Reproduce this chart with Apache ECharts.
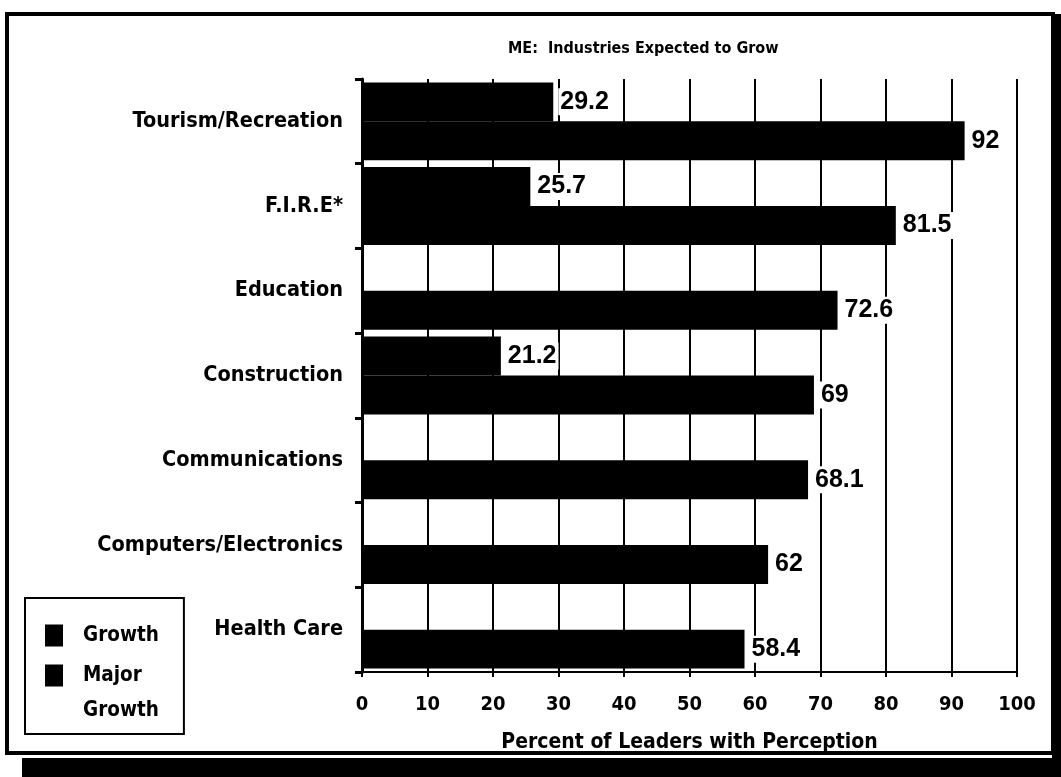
<!DOCTYPE html>
<html>
<head>
<meta charset="utf-8">
<script src="https://cdn.jsdelivr.net/npm/echarts@6/dist/echarts.min.js"></script>
<style>
  html, body { margin: 0; padding: 0; background: #fff; }
  #chart { width: 1061px; height: 777px; }
</style>
</head>
<body>
<div id="chart"></div>
<script>
// industries, top to bottom
const categories = [
  "Tourism/Recreation",
  "F.I.R.E*",
  "Education",
  "Construction",
  "Communications",
  "Computers/Electronics",
  "Health Care"
];
const growth = [29.2, 25.7, "-", 21.2, "-", "-", "-"];
const majorGrowth = [92, 81.5, 72.6, 69, 68.1, 62, 58.4];
const xTicks = [0, 10, 20, 30, 40, 50, 60, 70, 80, 90, 100];

const FONT = "'DejaVu Sans Condensed', 'DejaVu Sans', sans-serif";
const PLAIN = "'Liberation Sans', Arial, sans-serif";

const chart = echarts.init(document.getElementById("chart"));

const barLabel = {
  show: true,
  position: "right",
  distance: 5,
  color: "#000",
  fontFamily: PLAIN,
  fontWeight: "bold",
  fontSize: 25,
  backgroundColor: "#fff",
  padding: [1, 2, 1, 2]
};

chart.setOption({
  backgroundColor: "#fff",
  animation: false,
  title: {
    text: "ME:  Industries Expected to Grow",
    left: 503,
    top: 36,
    textStyle: {
      color: "#000",
      fontFamily: FONT,
      fontWeight: "bold",
      fontSize: 16
    }
  },
  legend: {
    orient: "vertical",
    left: 25,
    top: 598,
    height: 400,
    padding: [20, 25, 6, 20],
    itemWidth: 18,
    itemHeight: 22,
    itemGap: -30,
    borderColor: "#000",
    borderWidth: 2,
    icon: "rect",
    textStyle: {
      color: "#000",
      fontFamily: FONT,
      fontWeight: "bold",
      fontSize: 20.5,
      lineHeight: 35,
      padding: [0, 0, 0, 15]
    },
    formatter: function (name) {
      // second entry is written on two lines, icon beside the first
      return name === "Major Growth" ? "\nMajor\nGrowth" : name;
    },
    data: ["Growth", "Major Growth"]
  },
  grid: {
    left: 362,
    right: 44,
    top: 79,
    bottom: 105
  },
  xAxis: {
    type: "value",
    min: 0,
    max: 100,
    interval: 10,
    name: "Percent of Leaders with Perception",
    nameLocation: "middle",
    nameGap: 60,
    nameTextStyle: {
      color: "#000",
      fontFamily: FONT,
      fontWeight: "bold",
      fontSize: 21
    },
    axisLine: { show: true, lineStyle: { color: "#000", width: 2 } },
    axisTick: { show: true, length: 5, lineStyle: { color: "#000", width: 2 } },
    axisLabel: {
      color: "#000",
      margin: 23,
      fontFamily: FONT,
      fontWeight: "bold",
      fontSize: 20,
      formatter: function (v) {
        return xTicks.indexOf(v) >= 0 ? String(v) : "";
      }
    },
    splitLine: { show: true, lineStyle: { color: "#000", width: 2 } }
  },
  yAxis: {
    type: "category",
    data: categories,
    inverse: true,
    axisLine: { show: true, lineStyle: { color: "#000", width: 3 } },
    axisTick: { show: true, length: 7, lineStyle: { color: "#000", width: 3 } },
    axisLabel: {
      color: "#000",
      margin: 19,
      fontFamily: FONT,
      fontWeight: "bold",
      fontSize: 21.5
    },
    splitLine: { show: false }
  },
  series: [
    {
      name: "Growth",
      type: "bar",
      data: growth,
      barGap: "0%",
      barCategoryGap: "8%",
      itemStyle: { color: "#000" },
      label: barLabel
    },
    {
      name: "Major Growth",
      type: "bar",
      data: majorGrowth,
      barGap: "0%",
      barCategoryGap: "8%",
      itemStyle: { color: "#000" },
      label: barLabel
    }
  ],
  graphic: [
    {
      // scanned page frame
      type: "rect",
      silent: true,
      shape: { x: 7, y: 14, width: 1046, height: 739 },
      style: { fill: "none", stroke: "#000", lineWidth: 4 }
    },
    {
      type: "rect",
      silent: true,
      shape: { x: 22, y: 758, width: 1039, height: 19 },
      style: { fill: "#000" }
    },
    {
      type: "rect",
      silent: true,
      shape: { x: 1052, y: 14, width: 9, height: 763 },
      style: { fill: "#000" }
    }
  ]
});
</script>
</body>
</html>
